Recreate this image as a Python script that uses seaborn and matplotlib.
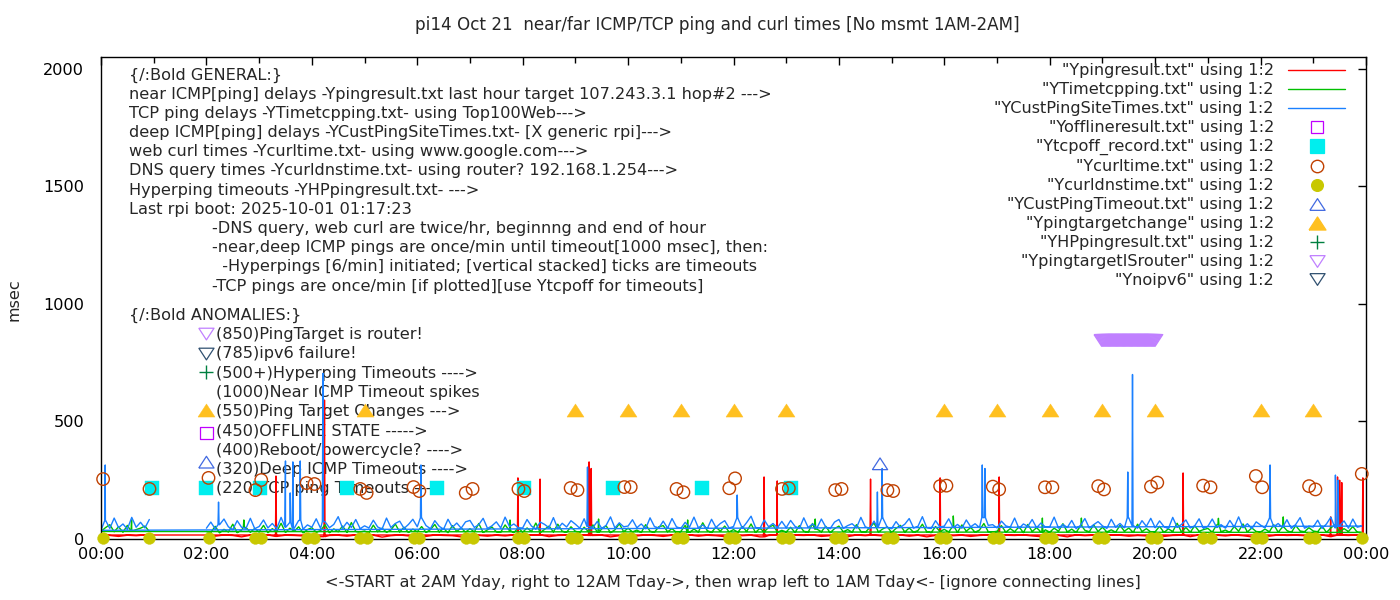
import numpy as np
import pandas as pd
import matplotlib
matplotlib.use("Agg")
import matplotlib.pyplot as plt
import seaborn as sns
from matplotlib.lines import Line2D

# ---------------------------------------------------------------- data
title = "pi14 Oct 21  near/far ICMP/TCP ping and curl times [No msmt 1AM-2AM]"
xlabel = "<-START at 2AM Yday, right to 12AM Tday->, then wrap left to 1AM Tday<- [ignore connecting lines]"
ylabel = "msec"
x_ticks = [0, 2, 4, 6, 8, 10, 12, 14, 16, 18, 20, 22, 24]
x_tick_labels = ["00:00", "02:00", "04:00", "06:00", "08:00", "10:00", "12:00",
                 "14:00", "16:00", "18:00", "20:00", "22:00", "00:00"]
y_ticks = [0, 500, 1000, 1500, 2000]

# recording order: 2AM yesterday -> midnight, then wrap to 0AM-1AM
hour_order = list(range(2, 24)) + [0]

# deep ICMP (YCustPingSiteTimes) 5-min samples, one row per hour in hour_order
blue_vals = [
    46, 72, 43, 61, 85, 52, 40, 78, 50, 45, 88, 44,
    53, 81, 47, 66, 44, 92, 51, 70, 46, 79, 42, 60,
    50, 86, 45, 74, 48, 62, 95, 46, 71, 49, 83, 44,
    56, 47, 80, 51, 43, 89, 49, 66, 76, 45, 62, 84,
    52, 90, 57, 44, 78, 54, 42, 84, 50, 68, 46, 73,
    79, 49, 61, 88, 45, 56, 73, 47, 93, 53, 64, 48,
    47, 83, 55, 43, 72, 62, 48, 91, 44, 67, 51, 78,
    63, 46, 86, 53, 49, 75, 45, 58, 94, 47, 69, 52,
    55, 82, 48, 64, 44, 90, 53, 47, 76, 46, 87, 52,
    45, 71, 51, 93, 48, 60, 43, 84, 49, 66, 78, 47,
    53, 88, 46, 70, 97, 50, 44, 81, 52, 66, 48, 75,
    48, 79, 54, 45, 90, 49, 64, 47, 85, 51, 44, 72,
    83, 46, 57, 65, 48, 92, 52, 45, 76, 53, 89, 50,
    44, 74, 50, 63, 87, 47, 54, 95, 48, 45, 78, 51,
    55, 86, 48, 62, 46, 81, 52, 65, 49, 91, 58, 61,
    47, 76, 56, 50, 89, 45, 64, 54, 83, 48, 68, 51,
    52, 93, 46, 62, 49, 79, 44, 58, 87, 47, 61, 74,
    56, 45, 84, 51, 66, 48, 90, 57, 46, 78, 54, 88,
    48, 77, 53, 44, 92, 50, 62, 81, 47, 56, 86, 45,
    54, 85, 49, 61, 46, 79, 51, 94, 48, 65, 44, 73,
    59, 47, 88, 52, 66, 49, 82, 45, 62, 91, 46, 54,
    51, 80, 45, 64, 93, 48, 57, 77, 46, 85, 50, 55,
    37, 78, 45, 89, 48, 64, 42, 92, 50, 71, 47, 83,
]
blue_spike_t = [0.08, 2.23, 3.50, 3.59, 3.64, 3.78, 4.21, 6.07, 9.23, 12.07, 14.73, 14.82,
                16.72, 16.77, 19.48, 19.57, 22.18, 23.42, 23.47]
blue_spike_v = [315, 157, 332, 196, 328, 332, 705, 315, 306, 187, 200, 300,
                315, 300, 285, 700, 315, 272, 250]

# TCP ping (YTimetcpping) 5-min samples
green_vals = [
    32, 28, 54, 26, 41, 30, 63, 27, 38, 49, 29, 45,
    30, 58, 27, 44, 31, 67, 28, 46, 33, 52, 26, 40,
    48, 29, 36, 61, 27, 43, 31, 55, 28, 70, 32, 30,
    34, 27, 59, 31, 46, 29, 38, 64, 30, 50, 28, 42,
    31, 53, 28, 40, 62, 30, 45, 27, 57, 32, 47, 29,
    44, 30, 66, 28, 39, 51, 31, 29, 60, 35, 27, 48,
    29, 47, 32, 68, 28, 41, 55, 30, 63, 33, 29, 52,
    33, 28, 50, 31, 60, 29, 43, 56, 27, 39, 65, 31,
    46, 30, 38, 28, 61, 33, 29, 52, 57, 31, 44, 28,
    32, 58, 29, 42, 30, 69, 36, 28, 51, 33, 55, 30,
    40, 29, 53, 32, 64, 28, 45, 31, 49, 59, 29, 37,
    30, 50, 28, 57, 33, 29, 66, 42, 31, 54, 27, 44,
    55, 31, 40, 29, 61, 32, 28, 48, 68, 30, 43, 52,
    28, 45, 58, 30, 47, 29, 36, 63, 31, 27, 53, 32,
    41, 30, 54, 28, 60, 33, 49, 29, 38, 66, 31, 30,
    33, 57, 29, 44, 31, 52, 27, 62, 32, 48, 30, 39,
    29, 46, 33, 65, 30, 42, 28, 55, 37, 31, 60, 32,
    50, 30, 39, 29, 58, 33, 47, 28, 63, 32, 44, 30,
    31, 54, 28, 43, 32, 67, 30, 49, 29, 56, 33, 40,
    45, 29, 60, 31, 38, 28, 53, 33, 64, 30, 47, 32,
    30, 42, 31, 61, 29, 51, 36, 28, 57, 34, 31, 48,
    34, 31, 55, 28, 47, 62, 30, 44, 32, 53, 29, 28,
    32, 48, 61, 31, 52, 29, 58, 33, 40, 46, 55, 32,
]
green_spike_t = [0.58, 2.71, 7.76, 9.44, 11.13, 13.55, 16.17, 17.86, 18.60, 21.20, 22.43]
green_spike_v = [81, 81, 81, 85, 81, 85, 98, 89, 89, 88, 94]

# near ICMP (Ypingresult) 10-min samples
red_vals = [
    16, 12, 17, 15, 9, 16,
    14, 17, 11, 16, 15, 13,
    17, 10, 15, 16, 12, 17,
    15, 16, 8, 14, 17, 13,
    16, 11, 17, 15, 14, 9,
    17, 15, 12, 16, 13, 17,
    14, 16, 17, 10, 15, 16,
    12, 17, 15, 16, 9, 14,
    16, 13, 17, 15, 11, 16,
    15, 17, 12, 16, 14, 10,
    17, 14, 16, 9, 15, 17,
    13, 16, 15, 17, 11, 14,
    16, 10, 17, 14, 16, 13,
    15, 17, 12, 16, 9, 15,
    17, 14, 16, 11, 15, 17,
    12, 16, 15, 17, 13, 10,
    16, 15, 9, 17, 14, 16,
    14, 17, 16, 12, 15, 13,
    17, 11, 15, 16, 10, 17,
    15, 16, 13, 17, 14, 9,
    16, 12, 17, 15, 16, 14,
    13, 17, 10, 16, 15, 17,
    17, 15, 11, 16, 14, 17,
]
red_spike_t = [3.32, 4.24, 7.91, 8.33, 9.26, 9.30, 12.58, 12.83, 14.60, 15.92, 17.04,
               20.53, 23.33, 23.46, 23.50, 23.54, 23.94]
red_spike_v = [268, 591, 260, 255, 328, 300, 264, 247, 255, 260, 264,
               281, 94, 264, 250, 240, 260]

# web curl times (Ycurltime)
curl_t = [0.04, 0.92, 2.04, 2.93, 3.04, 3.90, 4.05, 4.92, 5.04, 5.93, 6.04, 6.92, 7.05,
          7.92, 8.03, 8.91, 9.04, 9.93, 10.05, 10.92, 11.05, 11.92, 12.03, 12.92, 13.05,
          13.93, 14.05, 14.92, 15.03, 15.92, 16.04, 16.92, 17.04, 17.91, 18.05, 18.92,
          19.03, 19.92, 20.04, 20.91, 21.05, 21.91, 22.03, 22.92, 23.04, 23.92]
curl_v = [255, 213, 260, 208, 251, 238, 234, 213, 196, 221, 204, 196, 213,
          213, 204, 217, 208, 221, 221, 213, 199, 216, 258, 213, 216,
          208, 213, 208, 204, 225, 227, 223, 211, 220, 220, 225,
          211, 223, 240, 227, 220, 268, 220, 225, 211, 277]

# DNS query times (Ycurldnstime)
dns_t = [0.04, 0.92, 2.04, 2.93, 3.04, 3.90, 4.05, 4.92, 5.04, 5.93, 6.04, 6.92, 7.05,
         7.92, 8.03, 8.91, 9.04, 9.93, 10.05, 10.92, 11.05, 11.92, 12.03, 12.92, 13.05,
         13.93, 14.05, 14.92, 15.03, 15.92, 16.04, 16.92, 17.04, 17.91, 18.05, 18.92,
         19.03, 19.92, 20.04, 20.91, 21.05, 21.91, 22.03, 22.92, 23.04, 23.92]
dns_v = [3, 4, 3, 5, 3, 4, 3, 4, 5, 3, 4, 3, 4,
         3, 5, 4, 3, 4, 3, 5, 4, 3, 4, 3, 5,
         4, 3, 4, 3, 5, 3, 4, 3, 4, 5, 3,
         4, 3, 4, 3, 5, 4, 3, 4, 3, 4]

# TCP ping timeouts (Ytcpoff_record)
tcpoff_t = [0.97, 2.00, 3.02, 4.67, 6.37, 8.03, 9.72, 11.41, 13.10]
tcpoff_v = [217, 217, 217, 217, 217, 217, 217, 217, 217]

# ping target changes
change_t = [2.00, 5.01, 8.99, 10.00, 11.00, 12.01, 13.00, 15.99, 17.00, 18.00, 18.99, 20.00, 22.01, 22.99]
change_v = [550] * 14

# deep ICMP timeouts
custto_t = [2.00, 14.78]
custto_v = [327, 320]

offline_t, offline_v = [2.00], [450]
hp_t, hp_v = [2.00], [710]
noipv6_t, noipv6_v = [2.00], [787]

# ping target is router: minute of day (first one is the key marker at 2AM)
router_minute = [120,
                 1139, 1140, 1141, 1142, 1143, 1144, 1145, 1146, 1147, 1148, 1149, 1150,
                 1151, 1152, 1153, 1154, 1155, 1156, 1157, 1158, 1159, 1160, 1161, 1162,
                 1163, 1164, 1165, 1166, 1167, 1168, 1169, 1170, 1171, 1172, 1173, 1174,
                 1175, 1176, 1177, 1178, 1179, 1180, 1181, 1182, 1183, 1184, 1185, 1186,
                 1187, 1188, 1189, 1190, 1191, 1192, 1193, 1194, 1195, 1196, 1197, 1198,
                 1199, 1200]
router_v = [872] + [845] * 62

general_lines = [
    "{/:Bold GENERAL:}",
    "near ICMP[ping] delays -Ypingresult.txt last hour target 107.243.3.1 hop#2 --->",
    "TCP ping delays -YTimetcpping.txt- using Top100Web--->",
    "deep ICMP[ping] delays -YCustPingSiteTimes.txt- [X generic rpi]--->",
    "web curl times -Ycurltime.txt- using www.google.com--->",
    "DNS query times -Ycurldnstime.txt- using router? 192.168.1.254--->",
    "Hyperping timeouts -YHPpingresult.txt- --->",
    "Last rpi boot: 2025-10-01 01:17:23",
]
general_notes = [
    "-DNS query, web curl are twice/hr, beginnng and end of hour",
    "-near,deep ICMP pings are once/min until timeout[1000 msec], then:",
    "  -Hyperpings [6/min] initiated; [vertical stacked] ticks are timeouts",
    "-TCP pings are once/min [if plotted][use Ytcpoff for timeouts]",
]
anomaly_head = "{/:Bold ANOMALIES:}"
anomaly_lines = [
    "(850)PingTarget is router!",
    "(785)ipv6 failure!",
    "(500+)Hyperping Timeouts ---->",
    "(1000)Near ICMP Timeout spikes",
    "(550)Ping Target Changes --->",
    "(450)OFFLINE STATE ----->",
    "(400)Reboot/powercycle? ---->",
    "(320)Deep ICMP Timeouts ---->",
    "(220)TCP ping Timeouts --->",
]

# ---------------------------------------------------------------- helpers
def build_series(step_min, vals, spike_t, spike_v):
    per_hour = 60 // step_min
    t = np.array([h + k * step_min / 60 for h in hour_order for k in range(per_hour)])
    v = np.array(vals, dtype=float)
    ts, vs = list(t), list(v)
    for st, sv in zip(spike_t, spike_v):
        b = v[np.argmin(np.abs(t - st))]
        ts += [st - 0.01, st, st + 0.01]
        vs += [b, sv, b]
    df = pd.DataFrame({"t": ts, "v": vs})
    df["order"] = np.where(df["t"] < 2, df["t"] + 24, df["t"])
    return df.sort_values("order").reset_index(drop=True)

tri_up = [(-1.3, -1), (1.3, -1), (0, 1), (-1.3, -1)]
tri_dn = [(-1.3, 1), (1.3, 1), (0, -1), (-1.3, 1)]

C_RED, C_GREEN, C_BLUE = "#ff0000", "#00c000", "#1a80ff"
C_OFF, C_TCPOFF, C_CURL, C_DNS = "#c000ff", "#00eeee", "#c04000", "#c8c800"
C_CUSTTO, C_CHANGE, C_HP, C_ROUTER, C_V6 = "#4169e1", "#ffc020", "#008040", "#c080ff", "#305070"

FS = 11.6
FS_TITLE = 12.1
W, H = 1400, 600
L, R, T, B = 101, 1366, 57, 539

sns.set_style("white")
plt.rcParams["font.family"] = ["DejaVu Sans"]

fig = plt.figure(figsize=(W / 100, H / 100), dpi=100)
ax = fig.add_axes([L / W, (H - B) / H, (R - L) / W, (B - T) / H])

def axf(px, py):
    return (px - L) / (R - L), (B - py) / (B - T)

# ---------------------------------------------------------------- lines
red_df = build_series(10, red_vals, red_spike_t, red_spike_v)
green_df = build_series(5, green_vals, green_spike_t, green_spike_v)
blue_df = build_series(5, blue_vals, blue_spike_t, blue_spike_v)
for df, col in [(red_df, C_RED), (green_df, C_GREEN), (blue_df, C_BLUE)]:
    sns.lineplot(data=df, x="t", y="v", sort=False, estimator=None, color=col,
                 lw=1.0, ax=ax, zorder=2)

# ---------------------------------------------------------------- markers
def scat(t, v, marker, s, col, style, lw=0.9):
    if style == "filled":
        sns.scatterplot(x=t, y=v, marker=marker, s=s, color=col, edgecolor=col,
                        linewidth=0.3, ax=ax, zorder=3, clip_on=False)
    elif style == "open":
        sns.scatterplot(x=t, y=v, marker=marker, s=s, color=col, facecolors="none",
                        edgecolor=col, linewidth=lw, ax=ax, zorder=3, clip_on=False)
    else:  # line-art marker such as "+"
        sns.scatterplot(x=t, y=v, marker=marker, s=s, color=col,
                        linewidth=lw, ax=ax, zorder=3, clip_on=False)

router_t = [m / 60 for m in router_minute]

scat(offline_t, offline_v, "s", 80, C_OFF, "open")
scat(tcpoff_t, tcpoff_v, "s", 88, C_TCPOFF, "filled")
scat(curl_t, curl_v, "o", 80, C_CURL, "open", 1.0)
scat(dns_t, dns_v, "o", 72, C_DNS, "filled")
scat(custto_t, custto_v, tri_up, 120, C_CUSTTO, "open")
scat(change_t, change_v, tri_up, 150, C_CHANGE, "filled")
scat(hp_t, hp_v, "+", 95, C_HP, "line", 1.0)
scat(router_t, router_v, tri_dn, 120, C_ROUTER, "open")
scat(noipv6_t, noipv6_v, tri_dn, 120, C_V6, "open")

# ---------------------------------------------------------------- axes styling
ax.set_xlim(0, 24)
ax.set_ylim(0, 2051)
ax.set_xticks(x_ticks)
ax.set_xticklabels(x_tick_labels)
ax.set_xticks(list(range(1, 24, 2)), minor=True)
ax.set_yticks(y_ticks)
ax.set_yticklabels([str(v) for v in y_ticks])
ax.tick_params(axis="both", which="both", direction="in", top=True, right=True,
               colors="black", labelsize=FS, width=1)
ax.tick_params(axis="both", which="major", length=6)
ax.tick_params(axis="both", which="minor", length=4)
ax.tick_params(axis="x", pad=6)
ax.tick_params(axis="y", pad=12)
for sp in ax.spines.values():
    sp.set_color("black")
    sp.set_linewidth(1.0)
ax.set_xlabel(xlabel, fontsize=FS)
ax.set_ylabel(ylabel, fontsize=FS)
ax.xaxis.set_label_coords(*axf(733, 583))
ax.xaxis.label.set_va("center")
ax.yaxis.set_label_coords(*axf(14, 300))
ax.yaxis.label.set_va("center")
fig.suptitle(title, x=717 / W, y=1 - 25 / H, va="center", fontsize=FS_TITLE)

# ---------------------------------------------------------------- text blocks
for i, s in enumerate(general_lines):
    ax.text(*axf(129, 75 + 19.2 * i), s, transform=ax.transAxes, ha="left", va="center",
            fontsize=FS, zorder=1)
for i, s in enumerate(general_notes):
    ax.text(*axf(212, 75 + 19.2 * (i + 8)), s, transform=ax.transAxes, ha="left", va="center",
            fontsize=FS, zorder=1)
ax.text(*axf(129, 315), anomaly_head, transform=ax.transAxes, ha="left", va="center",
        fontsize=FS, zorder=1)
for i, s in enumerate(anomaly_lines):
    ax.text(*axf(216, 334.5 + 19.3 * i), s, transform=ax.transAxes, ha="left", va="center",
            fontsize=FS, zorder=1)

# ---------------------------------------------------------------- legend
def lh(col):
    return Line2D([], [], color=col, lw=1.0)

def mh(marker, ms, col, filled, mew=0.9):
    return Line2D([], [], ls="none", marker=marker, ms=ms, mec=col,
                  mfc=col if filled else "none", mew=mew)

handles = [
    lh(C_RED), lh(C_GREEN), lh(C_BLUE),
    mh("s", np.sqrt(80), C_OFF, False),
    mh("s", np.sqrt(88), C_TCPOFF, True),
    mh("o", np.sqrt(80), C_CURL, False, 1.0),
    mh("o", np.sqrt(72), C_DNS, True),
    mh(tri_up, np.sqrt(120), C_CUSTTO, False),
    mh(tri_up, np.sqrt(150), C_CHANGE, True),
    Line2D([], [], ls="none", marker="+", ms=np.sqrt(95), color=C_HP, mew=1.0),
    mh(tri_dn, np.sqrt(120), C_ROUTER, False),
    mh(tri_dn, np.sqrt(120), C_V6, False),
]
labels = [
    '"Ypingresult.txt" using 1:2', '"YTimetcpping.txt" using 1:2',
    '"YCustPingSiteTimes.txt" using 1:2', '"Yofflineresult.txt" using 1:2',
    '"Ytcpoff_record.txt" using 1:2', '"Ycurltime.txt" using 1:2',
    '"Ycurldnstime.txt" using 1:2', '"YCustPingTimeout.txt" using 1:2',
    '"Ypingtargetchange" using 1:2', '"YHPpingresult.txt" using 1:2',
    '"YpingtargetISrouter" using 1:2', '"Ynoipv6" using 1:2',
]
fs_px = FS * 100 / 72
leg = ax.legend(handles, labels, loc="upper right", bbox_to_anchor=axf(1345, 63.5),
                markerfirst=False, frameon=False, fontsize=FS, borderpad=0,
                borderaxespad=0, handlelength=57 / fs_px, handletextpad=14 / fs_px,
                labelspacing=0.245, handleheight=0.7)
leg.set_zorder(5)

fig.savefig("out.png", dpi=100)
